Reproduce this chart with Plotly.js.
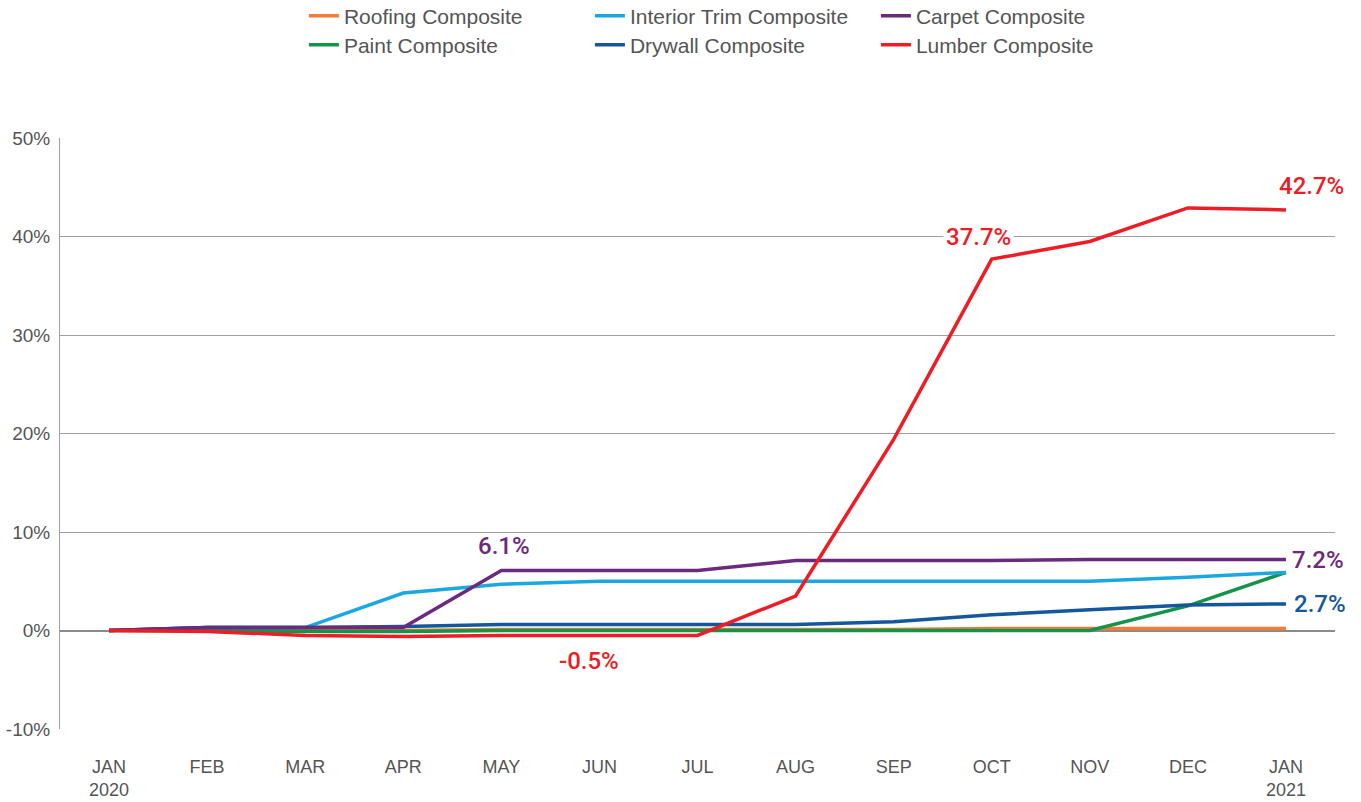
<!DOCTYPE html>
<html>
<head>
<meta charset="utf-8">
<script src="https://cdn.plot.ly/plotly-3.0.1.min.js"></script>
<style>html,body{margin:0;padding:0;background:#fff;}#chart{width:1361px;height:802px;}</style>
</head>
<body>
<div id="chart"></div>
<script>
var months = ["JAN<br>2020","FEB","MAR","APR","MAY","JUN","JUL","AUG","SEP","OCT","NOV","DEC","JAN<br>2021"];
var yTickVals = [-10, 0, 10, 20, 30, 40, 50];
var yTickText = ["-10%", "0%", "10%", "20%", "30%", "40%", "50%"];
var roofing  = [0, 0, 0, 0, 0.1, 0.1, 0.1, 0.1, 0.1, 0.2, 0.2, 0.2, 0.2];
var interior = [0, 0.3, 0.3, 3.8, 4.7, 5.0, 5.0, 5.0, 5.0, 5.0, 5.0, 5.4, 5.9];
var carpet   = [0, 0.3, 0.3, 0.3, 6.1, 6.1, 6.1, 7.1, 7.1, 7.1, 7.2, 7.2, 7.2];
var paint    = [0, 0, -0.1, -0.1, 0, 0, 0, 0, 0, 0, 0, 2.5, 5.9];
var drywall  = [0, 0.3, 0.3, 0.4, 0.6, 0.6, 0.6, 0.6, 0.9, 1.6, 2.1, 2.6, 2.7];
var lumber   = [0, -0.1, -0.5, -0.6, -0.5, -0.5, -0.5, 3.5, 19.4, 37.7, 39.5, 42.9, 42.7];

var idx = months.map(function(_, i){ return i; });
var C = {roof:"#F47B36", inter:"#1BA8E0", carp:"#6A2A7D", paint:"#14934A", dry:"#14579B", lum:"#EE1C25"};

function tr(name, y, color, legend, rank){
  return {type:"scatter", mode:"lines", name:name, x:idx, y:y, legend:legend, legendrank:rank,
    line:{color:color, width:3.5}, hoverinfo:"x+y+name"};
}
var data = [
  tr("Roofing Composite", roofing, C.roof, "legend", 1),
  tr("Paint Composite", paint, C.paint, "legend2", 1),
  tr("Interior Trim Composite", interior, C.inter, "legend", 2),
  tr("Drywall Composite", drywall, C.dry, "legend2", 2),
  tr("Carpet Composite", carpet, C.carp, "legend", 3),
  tr("Lumber Composite", lumber, C.lum, "legend2", 3)
];

var af = function(c){ return {family:"Roboto, 'Liberation Sans', sans-serif", size:24, color:c, weight:500}; };
var annotations = [
  {x:4, y:carpet[4], text:carpet[4].toFixed(1)+"%", showarrow:false, font:af(C.carp), yshift:24, xshift:3},
  {x:5, y:lumber[5], text:lumber[5].toFixed(1)+"%", showarrow:false, font:af(C.lum), yshift:-26, xshift:-10},
  {x:9, y:lumber[9], text:lumber[9].toFixed(1)+"%", showarrow:false, font:af(C.lum), xanchor:"right", xshift:22, yshift:22, bgcolor:"#ffffff", borderpad:2},
  {x:12, y:lumber[12], text:lumber[12].toFixed(1)+"%", showarrow:false, font:af(C.lum), yshift:24, xshift:26},
  {x:12, y:carpet[12], text:carpet[12].toFixed(1)+"%", showarrow:false, font:af(C.carp), xanchor:"left", xshift:4},
  {x:12, y:drywall[12], text:drywall[12].toFixed(1)+"%", showarrow:false, font:af(C.dry), xanchor:"left", xshift:6}
];

var lf = {family:"'Liberation Sans', Arial, sans-serif", size:21, color:"#555555"};
var tf = {family:"'Liberation Sans', Arial, sans-serif", size:18, color:"#555555"};
var layout = {
  width:1361, height:802,
  margin:{l:60, r:26, t:138, b:73, autoexpand:false},
  paper_bgcolor:"#ffffff", plot_bgcolor:"#ffffff",
  showlegend:true,
  legend:{orientation:"h", xref:"container", yref:"container", x:0.2233, xanchor:"left", y:0.9800, yanchor:"middle", entrywidth:241, entrywidthmode:"pixels", font:lf, bgcolor:"rgba(0,0,0,0)", tracegroupgap:0, itemwidth:30},
  legend2:{orientation:"h", xref:"container", yref:"container", x:0.2233, xanchor:"left", y:0.9438, yanchor:"middle", entrywidth:241, entrywidthmode:"pixels", font:lf, bgcolor:"rgba(0,0,0,0)", tracegroupgap:0, itemwidth:30},
  xaxis:{range:[-0.5, 12.5], tickvals:idx, ticktext:months, showgrid:false, zeroline:false, showline:false,
    ticks:"", ticklabelstandoff:25, tickfont:tf, fixedrange:true},
  yaxis:{range:[-10, 50], tickvals:yTickVals, ticktext:yTickText, showgrid:true, gridcolor:"#a0a0a0", gridwidth:1,
    zeroline:true, zerolinecolor:"#8a8a8a", zerolinewidth:2, showline:true, linecolor:"#a0a0a0", linewidth:1,
    ticks:"", ticklabelstandoff:5, tickfont:{family:"'Liberation Sans', Arial, sans-serif", size:19, color:"#555555"}, fixedrange:true},
  annotations:annotations
};
Plotly.newPlot("chart", data, layout, {displayModeBar:false, staticPlot:true});
</script>
</body>
</html>
